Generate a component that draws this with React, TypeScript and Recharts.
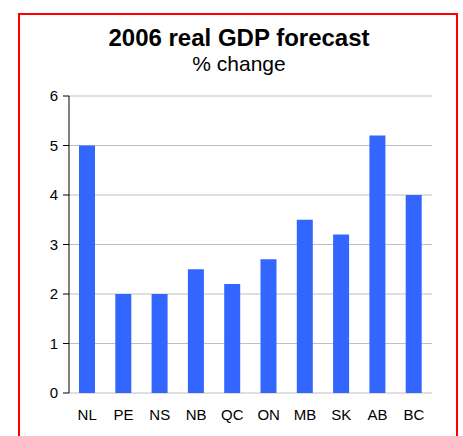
import { BarChart, Bar, XAxis, YAxis, CartesianGrid } from 'recharts'

const provinces = ['NL', 'PE', 'NS', 'NB', 'QC', 'ON', 'MB', 'SK', 'AB', 'BC']
const gdpChange = [5.0, 2.0, 2.0, 2.5, 2.2, 2.7, 3.5, 3.2, 5.2, 4.0]
const yTicks = [0, 1, 2, 3, 4, 5, 6]
const boundaryTicks = [0, 1, 2, 3, 4, 5, 6, 7, 8, 9, 10]

const chartData = provinces.map((p, i) => ({ name: p, value: gdpChange[i] }))

const font = '"Liberation Sans", Arial, sans-serif'
const tickStyle = { fill: '#000', fontSize: 15, fontFamily: font }

export default function App() {
  return (
    <div style={{ position: 'absolute', left: 0, top: 0, width: 463, height: 436, background: '#fff', overflow: 'hidden', fontFamily: font }}>
      <div
        style={{
          position: 'absolute',
          left: 18,
          top: 13,
          width: 440,
          height: 440,
          border: '2px solid #ff0000',
          boxSizing: 'border-box',
        }}
      />
      <div style={{ position: 'absolute', left: 18, width: 442, top: 26, textAlign: 'center', fontSize: 24, lineHeight: '24px', fontWeight: 'bold', color: '#000' }}>
        2006 real GDP forecast
      </div>
      <div style={{ position: 'absolute', left: 18, width: 442, top: 53, textAlign: 'center', fontSize: 21, lineHeight: '21px', color: '#000' }}>
        % change
      </div>
      <div style={{ position: 'absolute', left: 0, top: 0 }}>
        <BarChart
          width={463}
          height={436}
          data={chartData}
          margin={{ top: 96, right: 31, left: 0, bottom: 13 }}
          barSize={16}
          style={{ fontSize: 15, fontFamily: font }}
        >
          <CartesianGrid vertical={false} stroke="#c0c0c0" xAxisId="cat" />
          <XAxis
            xAxisId="bounds"
            type="number"
            domain={[0, 10]}
            ticks={boundaryTicks}
            tick={false}
            tickLine={{ stroke: '#000' }}
            tickSize={5}
            axisLine={{ stroke: '#000' }}
            height={0}
          />
          <XAxis
            xAxisId="cat"
            dataKey="name"
            tickLine={false}
            axisLine={false}
            tickSize={5}
            tickMargin={11}
            height={30}
            tick={tickStyle}
            style={{ fontSize: 15 }}
            interval={0}
          />
          <YAxis
            domain={[0, 6]}
            ticks={yTicks}
            width={69}
            tickSize={6}
            tickMargin={5}
            tickLine={{ stroke: '#000' }}
            axisLine={{ stroke: '#000' }}
            tick={tickStyle}
            style={{ fontSize: 15 }}
          />
          <Bar dataKey="value" xAxisId="cat" fill="#3366ff" isAnimationActive={false} />
        </BarChart>
      </div>
    </div>
  )
}
